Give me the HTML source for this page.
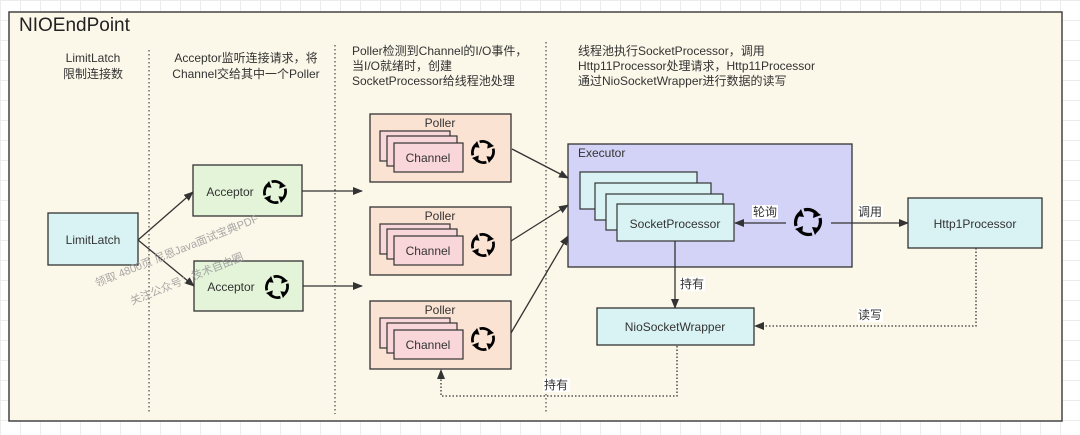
<!DOCTYPE html>
<html><head><meta charset="utf-8"><style>
html,body{margin:0;padding:0;}
body{width:1080px;height:430px;overflow:hidden;background-color:#fff;
background-image:linear-gradient(#ececec 1px,transparent 1px),linear-gradient(90deg,#ececec 1px,transparent 1px);background-size:20px 20px;
font-family:"Liberation Sans","Noto Sans CJK SC",sans-serif;}
svg text{font-family:"Liberation Sans","Noto Sans CJK SC",sans-serif;}
</style></head><body>
<svg width="1080" height="430" xmlns="http://www.w3.org/2000/svg">
<defs>
<marker id="ah" markerWidth="10" markerHeight="8" refX="9" refY="4" orient="auto" markerUnits="userSpaceOnUse"><path d="M0,0 L10,4 L0,8 Z" fill="#333"/></marker>
<g id="loop">
<path d="M-4,-12 A12.5,12.5 0 0 1 9,-8" fill="none" stroke="#000" stroke-width="3.2"/>
<path d="M12,-4 A12.5,12.5 0 0 1 8,9" fill="none" stroke="#000" stroke-width="3.2"/>
<path d="M4,12 A12.5,12.5 0 0 1 -9,8" fill="none" stroke="#000" stroke-width="3.2"/>
<path d="M-12,4 A12.5,12.5 0 0 1 -8,-9" fill="none" stroke="#000" stroke-width="3.2"/>
<path d="M6,-12 L13,-7 L5,-4 Z" fill="#000"/>
<path d="M12,6 L7,13 L4,5 Z" fill="#000"/>
<path d="M-6,12 L-13,7 L-5,4 Z" fill="#000"/>
<path d="M-12,-6 L-7,-13 L-4,-5 Z" fill="#000"/>
</g>
</defs>
<rect x="9" y="12" width="1053" height="409" fill="#fbf7e9" stroke="#444" stroke-width="1.5"/>
<text x="19" y="31" font-size="19" fill="#222">NIOEndPoint</text>
<g stroke="#555" stroke-width="1.3" stroke-dasharray="1.5,2.5">
<line x1="149" y1="50" x2="149" y2="414"/>
<line x1="335" y1="45" x2="335" y2="414"/>
<line x1="546" y1="42" x2="546" y2="414"/>
</g>
<g font-size="12" fill="#333">
<text x="93" y="62" text-anchor="middle">LimitLatch</text>
<text x="93" y="78" text-anchor="middle">限制连接数</text>
<text x="246" y="62" text-anchor="middle">Acceptor监听连接请求，将</text>
<text x="246" y="78" text-anchor="middle">Channel交给其中一个Poller</text>
<text x="352" y="55">Poller检测到Channel的I/O事件，</text>
<text x="352" y="70">当I/O就绪时，创建</text>
<text x="352" y="85">SocketProcessor给线程池处理</text>
<text x="578" y="55">线程池执行SocketProcessor，调用</text>
<text x="578" y="70">Http11Processor处理请求，Http11Processor</text>
<text x="578" y="85">通过NioSocketWrapper进行数据的读写</text>
</g>
<rect x="48" y="213" width="90" height="52" fill="#d9f3f4" stroke="#333" stroke-width="1.3"/>
<text x="93" y="244" font-size="12" text-anchor="middle" fill="#333">LimitLatch</text>
<rect x="193" y="165" width="109" height="51" fill="#e3f4d9" stroke="#333" stroke-width="1.3"/>
<text x="230" y="196" font-size="12" text-anchor="middle" fill="#333">Acceptor</text>
<use href="#loop" transform="translate(275,192) scale(0.85)"/>
<rect x="194" y="261" width="109" height="50" fill="#e3f4d9" stroke="#333" stroke-width="1.3"/>
<text x="231" y="291" font-size="12" text-anchor="middle" fill="#333">Acceptor</text>
<use href="#loop" transform="translate(277,287) scale(0.85)"/>
<g id="poller">
<rect x="370" y="114" width="141" height="68" fill="#fbe3d3" stroke="#333" stroke-width="1.3"/>
<text x="440" y="127" font-size="12" text-anchor="middle" fill="#333">Poller</text>
<rect x="380" y="131" width="70" height="30" fill="#f9d6d9" stroke="#333" stroke-width="1.2"/>
<rect x="387" y="136" width="70" height="30" fill="#f9d6d9" stroke="#333" stroke-width="1.2"/>
<rect x="394" y="143" width="69" height="29" fill="#f9d6d9" stroke="#333" stroke-width="1.2"/>
<text x="428" y="162" font-size="12" text-anchor="middle" fill="#333">Channel</text>
<use href="#loop" transform="translate(483,152) scale(0.85)"/>
</g>
<use href="#poller" transform="translate(0,93)"/>
<use href="#poller" transform="translate(0,187)"/>
<g stroke="#333" stroke-width="1.3" fill="none" marker-end="url(#ah)">
<line x1="138" y1="240" x2="193" y2="192"/>
<line x1="138" y1="240" x2="194" y2="286"/>
<line x1="302" y1="191" x2="362" y2="191"/>
<line x1="303" y1="286" x2="362" y2="286"/>
<line x1="512" y1="149" x2="568" y2="178"/>
<line x1="511" y1="241" x2="568" y2="205"/>
<line x1="511" y1="333" x2="568" y2="236"/>
</g>
<rect x="568" y="144" width="284" height="123" fill="#d3d3f7" stroke="#333" stroke-width="1.3"/>
<text x="578" y="157" font-size="12" fill="#333">Executor</text>
<rect x="580" y="172" width="117" height="37" fill="#d9f3f4" stroke="#333" stroke-width="1.2"/>
<rect x="595" y="183" width="116" height="37" fill="#d9f3f4" stroke="#333" stroke-width="1.2"/>
<rect x="606" y="194" width="117" height="36" fill="#d9f3f4" stroke="#333" stroke-width="1.2"/>
<rect x="617" y="204" width="117" height="37" fill="#d9f3f4" stroke="#333" stroke-width="1.2"/>
<text x="675" y="228" font-size="12" text-anchor="middle" fill="#333">SocketProcessor</text>
<use href="#loop" transform="translate(808,222)"/>
<g stroke="#333" stroke-width="1.3" fill="none" marker-end="url(#ah)">
<line x1="786" y1="223" x2="735" y2="223"/>
<line x1="831" y1="223" x2="908" y2="223"/>
<line x1="675" y1="241" x2="675" y2="308"/>
</g>
<rect x="752" y="205" width="26" height="14" fill="#fff"/>
<text x="765" y="216" font-size="12" text-anchor="middle" fill="#333">轮询</text>
<rect x="857" y="205" width="26" height="14" fill="#fff"/>
<text x="870" y="216" font-size="12" text-anchor="middle" fill="#333">调用</text>
<rect x="908" y="198" width="134" height="50" fill="#d9f3f4" stroke="#333" stroke-width="1.3"/>
<text x="975" y="228" font-size="12" text-anchor="middle" fill="#333">Http1Processor</text>
<rect x="597" y="308" width="157" height="37" fill="#d9f3f4" stroke="#333" stroke-width="1.3"/>
<text x="675" y="331" font-size="12" text-anchor="middle" fill="#333">NioSocketWrapper</text>
<rect x="680" y="277" width="25" height="14" fill="#fff"/>
<text x="692" y="288" font-size="12" text-anchor="middle" fill="#333">持有</text>
<g stroke="#333" stroke-width="1.3" fill="none" stroke-dasharray="1.5,2">
<polyline points="976,248 976,326 756,326"/>
<polyline points="677,346 677,396 441,396 441,373"/>
</g>
<path d="M754,326 L764,322 L764,330 Z" fill="#333"/>
<path d="M441,369 L437,379 L445,379 Z" fill="#333"/>
<rect x="857" y="308" width="26" height="14" fill="#fff"/>
<text x="870" y="319" font-size="12" text-anchor="middle" fill="#333">读写</text>
<rect x="543" y="378" width="27" height="14" fill="#fff"/>
<text x="556" y="389" font-size="12" text-anchor="middle" fill="#333">持有</text>
<g font-size="11" fill="#999" opacity="0.85">
<text transform="translate(97,287) rotate(-22)">领取 4800页 尼恩Java面试宝典PDF</text>
<text transform="translate(132,305) rotate(-22)">关注公众号：技术自由圈</text>
</g>
</svg>
</body></html>
